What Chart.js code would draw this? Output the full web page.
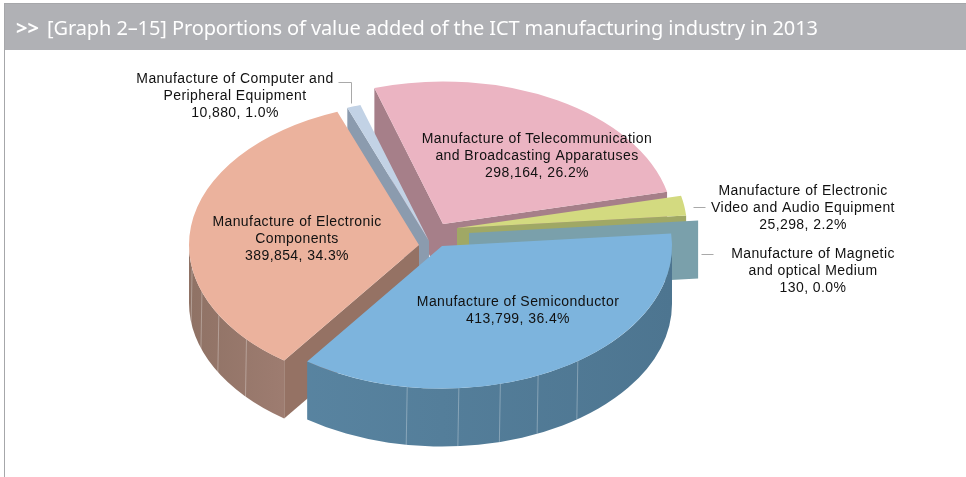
<!DOCTYPE html>
<html>
<head>
<meta charset="utf-8">
<style>
html,body{margin:0;padding:0;background:#fff;}
#wrap{position:relative;width:966px;height:477px;overflow:hidden;}
#frameTop{position:absolute;left:4px;top:3px;width:962px;height:1px;background:#a6a7aa;}
#frameLeft{position:absolute;left:4px;top:3px;width:1px;height:474px;background:#a6a7aa;}
#head{position:absolute;left:5px;top:4px;width:961px;height:46px;background:#b0b1b5;color:#fff;
 font:20px "Noto Sans",sans-serif;line-height:48px;white-space:nowrap;}
#head span{position:absolute;top:0;}
#head .mark{left:11px;font-weight:700;}
#head .txt{left:42px;letter-spacing:-0.1px;}
canvas{position:absolute;left:0;top:0;}
</style>
</head>
<body>
<div id="wrap">
<canvas id="c" width="966" height="477"></canvas>
<div id="frameTop"></div><div id="frameLeft"></div>
<div id="head"><span class="mark">&gt;&gt;</span><span class="txt">[Graph 2–15] Proportions of value added of the ICT manufacturing industry in 2013</span></div>
</div>
<script src="https://cdn.jsdelivr.net/npm/chart.js@4"></script>
<script>
// ---- data ----
const categories = [
  ["Manufacture of Semiconductor"],
  ["Manufacture of Electronic", "Components"],
  ["Manufacture of Computer and", "Peripheral Equipment"],
  ["Manufacture of Telecommunication", "and Broadcasting Apparatuses"],
  ["Manufacture of Electronic", "Video and Audio Equipment"],
  ["Manufacture of Magnetic", "and optical Medium"]
];
const values = [413799, 389854, 10880, 298164, 25298, 130];
const percents = ["36.4", "34.3", "1.0", "26.2", "2.2", "0.0"];

// ---- styles ----
const topColors  = ["#7db4dd", "#ebb29d", "#c2d2e5", "#ebb4c2", "#d3da80", "#7aa0ab"];
const wallColors = [["#5b87a4", "#4d7590"], ["#8f7265", "#a98479"], ["#8a9aad", "#8a9aad"], ["#a57e88", "#a57e88"], ["#a0a865", "#a0a865"], ["#7aa0ab", "#7aa0ab"]];
const faceColors = ["#5b87a4", "#957264", "#8b9bae", "#a67f89", "#a0a865", "#7aa0ab"];
const explode = [[10, 12], [-13, 11], [-3, 7], [11, -10], [25, -6], [37, -1]];
const ribs = [[98.7, 85.8, 75.3, 65.3, 53.8], [138.6, 150.5, 160.7, 170.6], [], [], [], []];
const labelPos = [[518, 302, 0], [297, 222, 1], [235, 79, 2], [537, 139, 3], [803, 191, 4], [813, 254, 5]];
const leaders = [[[338, 82], [351, 82], [351, 103]], [[693, 207], [705, 207]], [[701, 254], [713, 254]]];
const K = 0.62, DEPTH = 58, RADIUS = 230, ROTATION = 85;
const drawOrder = [3, 4, 5, 2, 1, 0];
const LABEL_FONT = '14px "Liberation Sans", sans-serif', LINE_H = 17.3, LABEL_SPACING = '0.42px';

const pie3d = {
  id: 'pie3d',
  beforeDatasetsDraw(chart) {
    const ctx = chart.ctx, arcs = chart.getDatasetMeta(0).data;
    drawOrder.forEach(i => {
      const arc = arcs[i], [ex, ey] = explode[i];
      const {x, y, startAngle: s, endAngle: e, outerRadius: r} = arc.getProps(['x','y','startAngle','endAngle','outerRadius'], true);
      const cx = x + ex, cy = y + ey, ry = r * K;
      const pt = a => [cx + r * Math.cos(a), cy + ry * Math.sin(a)];
      // radial cut faces
      const quad = (a, col) => {
        const p = pt(a);
        ctx.beginPath(); ctx.moveTo(cx, cy); ctx.lineTo(p[0], p[1]);
        ctx.lineTo(p[0], p[1] + DEPTH); ctx.lineTo(cx, cy + DEPTH); ctx.closePath();
        ctx.fillStyle = col; ctx.fill();
      };
      if (Math.cos(s) < 0 || i === 1) quad(s, faceColors[i]);
      if (Math.cos(e) > 0) quad(e, faceColors[i]);
      // outer wall
      for (let k = -1; k <= 1; k++) {
        const a0 = Math.max(s, k * 2 * Math.PI), a1 = Math.min(e, k * 2 * Math.PI + Math.PI);
        if (a1 <= a0) continue;
        const g = ctx.createLinearGradient(cx - r, 0, cx + r, 0);
        g.addColorStop(0, wallColors[i][0]); g.addColorStop(1, wallColors[i][1]);
        if (i === 1) { g.addColorStop(0.37, wallColors[i][1]); }
        ctx.beginPath();
        ctx.ellipse(cx, cy, r, ry, 0, a0, a1);
        ctx.ellipse(cx, cy + DEPTH, r, ry, 0, a1, a0, true);
        ctx.closePath(); ctx.fillStyle = g; ctx.fill();
      }
      // segment lines on the wall
      ribs[i].forEach(d => {
        const p = pt(d * Math.PI / 180);
        ctx.beginPath(); ctx.moveTo(p[0], p[1]); ctx.lineTo(p[0] - 1, p[1] + DEPTH);
        ctx.strokeStyle = 'rgba(255,255,255,0.3)'; ctx.lineWidth = 1; ctx.stroke();
      });
      // top face, drawn by the library's arc element
      if (i !== 5) {
        ctx.save();
        ctx.translate(cx, cy); ctx.scale(1, K); ctx.translate(-x, -y);
        arc.draw(ctx);
        ctx.restore();
      }
    });
    // leader lines
    ctx.strokeStyle = '#a9a9a9'; ctx.lineWidth = 1;
    leaders.forEach(l => {
      ctx.beginPath();
      l.forEach((p, j) => j ? ctx.lineTo(p[0] + .5, p[1] + .5) : ctx.moveTo(p[0] + .5, p[1] + .5));
      ctx.stroke();
    });
    // labels
    ctx.fillStyle = '#111'; ctx.font = LABEL_FONT; ctx.letterSpacing = LABEL_SPACING;
    ctx.textAlign = 'center'; ctx.textBaseline = 'middle';
    labelPos.forEach(([lx, ly, i]) => {
      const lines = [...categories[i], values[i].toLocaleString('en-US') + ', ' + percents[i] + '%'];
      lines.forEach((t, j) => ctx.fillText(t, lx, ly + j * LINE_H));
    });
    ctx.letterSpacing = '0px';
    return false;
  }
};

new Chart(document.getElementById('c'), {
  type: 'pie',
  data: {
    labels: categories.map(c => c.join(' ')),
    datasets: [{ data: values, backgroundColor: topColors, borderWidth: 0 }]
  },
  options: {
    responsive: false,
    animation: false,
    rotation: ROTATION,
    radius: RADIUS,
    layout: { padding: { right: 102, bottom: 9 } },
    plugins: { legend: { display: false }, tooltip: { enabled: false } }
  },
  plugins: [pie3d]
});
</script>
</body>
</html>
